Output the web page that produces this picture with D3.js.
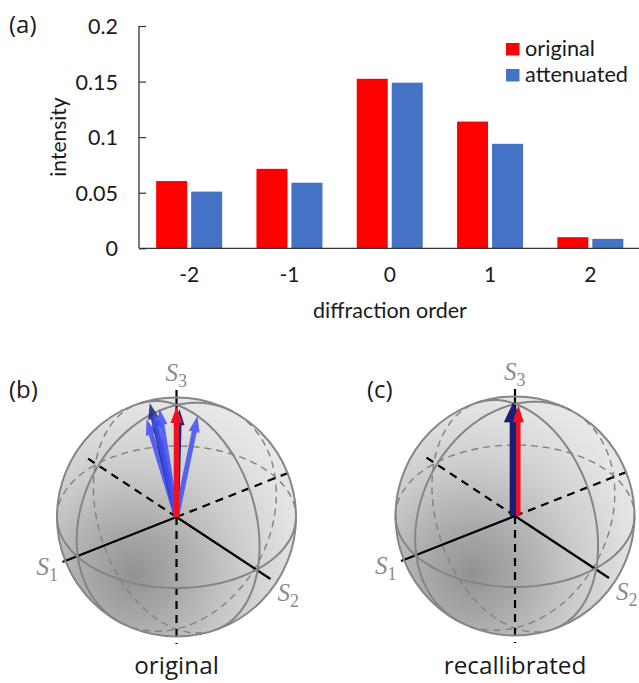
<!DOCTYPE html>
<html lang="en">
<head>
<meta charset="UTF-8">
<title>Diffraction orders and Stokes vectors</title>
<script src="https://cdn.jsdelivr.net/npm/d3@7"></script>
<style>
  html, body { margin: 0; padding: 0; background: #fff; overflow: hidden; }
  text { fill: #1a1a1a; }
</style>
</head>
<body>
<script>
// bar chart values
var orders = ['-2', '-1', '0', '1', '2']
var seriesNames = ['original', 'attenuated']
var originalValues = [0.0605, 0.0715, 0.1525, 0.114, 0.01]
var attenuatedValues = [0.051, 0.059, 0.149, 0.094, 0.0085]
var yTicks = [0, 0.05, 0.1, 0.15, 0.2]
var yTickLabels = ['0', '0.05', '0.1', '0.15', '0.2']

// stokes vectors, [s1, s2, s3] in axis units
var originalStokes = [[0.263, 0, 0.865], [0.234, 0, 0.98], [0.2, 0, 0.9], [0.149, 0, 0.903], [-0.184, 0, 0.73]]
var originalKinds = ['blue', 'navy', 'blue', 'blue', 'blue']
var behindStokes = [[-0.026, 0, 0.84]]
var calibratedStokes = [[0.015, 0, 0.895]]
var calibratedBase = [[0.015, 0, 0.005]]
var targetBaseB = [[0, 0, 0]]
var targetStokesB = [[0, 0, 0.866]]
var targetBaseC = [[-0.029, 0, -0.01]]
var targetStokesC = [[-0.029, 0, 0.864]]

var width = 639, height = 683
var barFont = 'Lato, "Open Sans", sans-serif'
var labelFont = '"Open Sans", "Noto Sans", sans-serif'
var red = '#ff0000', blue = '#4472c4'

var svg = d3.select('body').append('svg')
    .attr('width', width)
    .attr('height', height)
    .style('display', 'block')

// ---- (a) ----
var x = d3.scaleBand().domain(orders).range([139, 640.5]).paddingInner(0.342).paddingOuter(0.171)
var xInner = d3.scaleBand().domain(seriesNames).range([0, x.bandwidth()]).paddingInner(0.114)
var y = d3.scaleLinear().domain([0, 0.2]).range([248.3, 26])
var colors = d3.scaleOrdinal().domain(seriesNames).range([red, blue])

var groups = svg.append('g').selectAll('g')
    .data(orders)
    .enter()
    .append('g')
    .attr('transform', d => 'translate(' + x(d) + ',0)')

groups.each(function (d, i) {
    var vals = [originalValues[i], attenuatedValues[i]]
    d3.select(this).selectAll('rect')
        .data(vals)
        .enter()
        .append('rect')
        .attr('x', (v, j) => xInner(seriesNames[j]))
        .attr('y', v => y(v))
        .attr('width', xInner.bandwidth())
        .attr('height', v => y(0) - y(v))
        .attr('fill', (v, j) => colors(seriesNames[j]))
})

var yAxis = svg.append('g')
    .attr('transform', 'translate(139,0)')
    .call(d3.axisLeft(y).tickValues(yTicks).tickSize(-7).tickFormat((d, i) => yTickLabels[i]))
yAxis.select('.domain').attr('d', 'M0,' + y(0.2) + 'V' + y(0)).attr('stroke', '#333').attr('stroke-width', 1.3)
yAxis.selectAll('.tick line').attr('stroke', '#333').attr('stroke-width', 1.2)
yAxis.selectAll('.tick text')
    .attr('x', -21)
    .attr('dy', '0.35em')
    .style('font-family', barFont)
    .style('font-size', '21.5px')
    .style('fill', '#1a1a1a')

var xAxis = svg.append('g')
    .attr('transform', 'translate(0,' + y(0) + ')')
    .call(d3.axisBottom(x).tickSize(0).tickPadding(19))
xAxis.select('.domain').attr('d', 'M139,0H639').attr('stroke', '#333').attr('stroke-width', 1.3)
xAxis.selectAll('.tick text')
    .style('font-family', barFont)
    .style('font-size', '21px')
    .style('fill', '#1a1a1a')

svg.append('text')
    .attr('x', 390).attr('y', 318)
    .attr('text-anchor', 'middle')
    .style('font-family', barFont).style('font-size', '21.5px')
    .text('diffraction order')

svg.append('text')
    .attr('transform', 'translate(66,137) rotate(-90)')
    .attr('text-anchor', 'middle')
    .style('font-family', barFont).style('font-size', '21px')
    .text('intensity')

var legend = svg.append('g').selectAll('g')
    .data(seriesNames)
    .enter()
    .append('g')
    .attr('transform', (d, i) => 'translate(506,' + (43 + i * 26) + ')')
legend.append('rect').attr('width', 13.5).attr('height', 12.5).attr('fill', d => colors(d))
legend.append('text')
    .attr('x', 19).attr('y', 13)
    .style('font-family', barFont).style('font-size', '21.7px')
    .text(d => d)

// panel letters and titles
var letters = [['(a)', 9, 33], ['(b)', 9, 398], ['(c)', 367, 398]]
svg.append('g').selectAll('text')
    .data(letters)
    .enter()
    .append('text')
    .attr('x', d => d[1]).attr('y', d => d[2])
    .style('font-family', labelFont).style('font-size', '24px')
    .text(d => d[0])

// ---- (b), (c) ----
var defs = svg.append('defs')
var shade = defs.append('radialGradient')
    .attr('id', 'shade')
    .attr('cx', 0.32).attr('cy', 0.74).attr('r', 0.8)
shade.selectAll('stop')
    .data([[0, '#929292'], [0.25, '#aaaaaa'], [0.55, '#cbcbcb'], [0.85, '#e2e2e2'], [1, '#e8e8e8']])
    .enter()
    .append('stop')
    .attr('offset', d => d[0])
    .attr('stop-color', d => d[1])

var R = 119.5
var line = d3.line()
var e1 = [-114, 45], e2 = [94, 62], e3 = [0, -127]

// stokes coordinates to pixels relative to the sphere centre
function project(s) {
    return [s[0] * e1[0] + s[1] * e2[0] + s[2] * e3[0], s[0] * e1[1] + s[1] * e2[1] + s[2] * e3[1]]
}

// half of a projected great circle
function arc(u, v, b, t0, t1) {
    return line(d3.range(0, 61).map(function (k) {
        var t = t0 + (t1 - t0) * k / 60
        return [R * Math.cos(t) * u[0] + b * Math.sin(t) * v[0], R * Math.cos(t) * u[1] + b * Math.sin(t) * v[1]]
    }))
}

function rad(deg) { return deg * Math.PI / 180 }

var p1 = rad(28), p2 = rad(18.4)
var circles = [
    { u: [1, 0], v: [0, 1], b: 71 },
    { u: [Math.sin(p1), -Math.cos(p1)], v: [-Math.cos(p1), -Math.sin(p1)], b: 93.5 },
    { u: [-Math.sin(p2), -Math.cos(p2)], v: [Math.cos(p2), -Math.sin(p2)], b: 78 }
]

function arrowPath(base, tip, shaft, headW, headL) {
    var a = project(base), c = project(tip)
    var dx = c[0] - a[0], dy = c[1] - a[1], len = Math.sqrt(dx * dx + dy * dy)
    var ux = dx / len, uy = dy / len, nx = -uy, ny = ux
    var nb = [c[0] - ux * headL, c[1] - uy * headL]
    return line([
        [a[0] + nx * shaft / 2, a[1] + ny * shaft / 2],
        [nb[0] + nx * shaft / 2, nb[1] + ny * shaft / 2],
        [nb[0] + nx * headW / 2, nb[1] + ny * headW / 2],
        c,
        [nb[0] - nx * headW / 2, nb[1] - ny * headW / 2],
        [nb[0] - nx * shaft / 2, nb[1] - ny * shaft / 2],
        [a[0] - nx * shaft / 2, a[1] - ny * shaft / 2]
    ]) + 'Z'
}

function sphere(cx, cy, title, drawArrows) {
    var g = svg.append('g').attr('transform', 'translate(' + cx + ',' + cy + ')')
    g.append('circle').attr('r', R).attr('fill', 'url(#shade)')

    circles.forEach(function (c) {
        g.append('path').attr('d', arc(c.u, c.v, c.b, Math.PI, 2 * Math.PI))
            .attr('fill', 'none').attr('stroke', '#808080').attr('stroke-width', 1.4).attr('stroke-dasharray', '7,5')
    })

    // axes
    var axes = [
        { to: [1, 0, 0], dash: null },
        { to: [0, 1, 0], dash: null },
        { to: [0, 0, 1], dash: null },
        { to: [-0.99, 0, 0], dash: '8,6' },
        { to: [0, -0.99, 0], dash: '8,6' },
        { to: [0, 0, -1], dash: '8,6' }
    ]
    axes.forEach(function (a) {
        var p = project(a.to)
        g.append('line').attr('x2', p[0]).attr('y2', p[1])
            .attr('stroke', '#000').attr('stroke-width', 2.2)
            .attr('stroke-dasharray', a.dash)
    })

    circles.forEach(function (c) {
        g.append('path').attr('d', arc(c.u, c.v, c.b, 0, Math.PI))
            .attr('fill', 'none').attr('stroke', '#858585').attr('stroke-width', 2)
    })
    g.append('circle').attr('r', R).attr('fill', 'none').attr('stroke', '#868686').attr('stroke-width', 2)

    drawArrows(g)

    var stokesLabels = [['1', -140, 58], ['2', 101, 84], ['3', -11, -136]]
    stokesLabels.forEach(function (l) {
        var t = g.append('text').attr('x', l[1]).attr('y', l[2])
            .style('font-family', '"Liberation Serif", serif').style('font-size', '25px')
        t.append('tspan').style('font-style', 'italic').style('fill', '#8a8a8a').text('S')
        t.append('tspan').attr('dy', 6).style('font-size', '18px').style('fill', '#8a8a8a').text(l[0])
    })

    g.append('text')
        .attr('y', 674 - cy)
        .attr('text-anchor', 'middle')
        .style('font-family', labelFont).style('font-size', '24.3px')
        .text(title)
}

sphere(176.5, 517, 'original', function (g) {
    var o = [0, 0, 0]
    behindStokes.forEach(function (s) {
        g.append('path').attr('d', arrowPath(o, s, 5, 11, 16)).attr('fill', '#16207f')
    })
    originalStokes.forEach(function (s, i) {
        g.append('path').attr('d', arrowPath(o, s, 5, 11, 16))
            .attr('fill', originalKinds[i] == 'navy' ? '#16207f' : '#3f4ff5')
            .attr('fill-opacity', 0.85)
    })
    g.append('path').attr('d', arrowPath(targetBaseB[0], targetStokesB[0], 5.5, 12, 16)).attr('fill', '#f01020')
})

sphere(515, 516, 'recallibrated', function (g) {
    g.append('path').attr('d', arrowPath(calibratedBase[0], calibratedStokes[0], 6.5, 18, 19))
        .attr('fill', '#16207f').attr('stroke', '#111').attr('stroke-width', 0.6)
    g.append('path').attr('d', arrowPath(targetBaseC[0], targetStokesC[0], 4.5, 11, 17)).attr('fill', '#f01020')
})
</script>
</body>
</html>
